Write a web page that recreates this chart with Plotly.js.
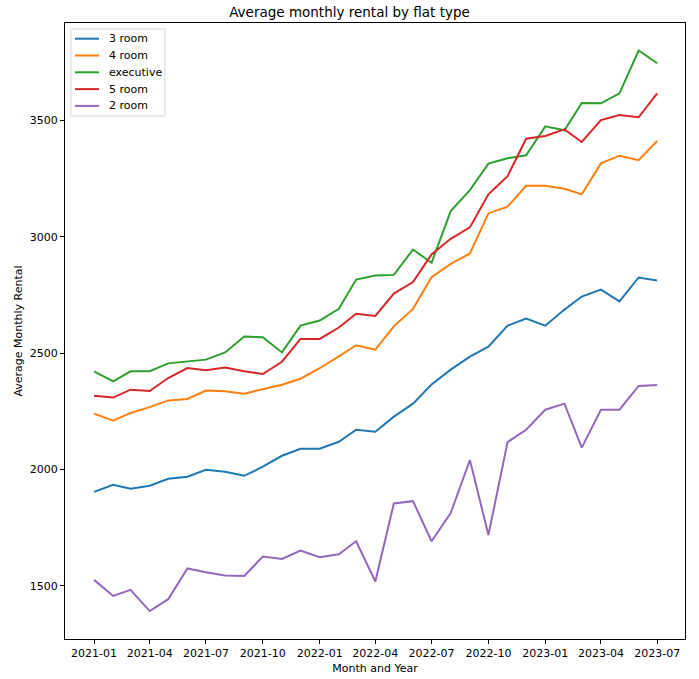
<!DOCTYPE html>
<html>
<head>
<meta charset="utf-8">
<script src="https://cdn.plot.ly/plotly-3.0.1.min.js"></script>
<style>
  html, body { margin: 0; padding: 0; background: #ffffff; }
  #chart { width: 699px; height: 679px; }
</style>
</head>
<body>
<div id="chart"></div>
<script>
// Months covered by the series
const months = [
  '2021-01-01','2021-02-01','2021-03-01','2021-04-01','2021-05-01','2021-06-01',
  '2021-07-01','2021-08-01','2021-09-01','2021-10-01','2021-11-01','2021-12-01',
  '2022-01-01','2022-02-01','2022-03-01','2022-04-01','2022-05-01','2022-06-01',
  '2022-07-01','2022-08-01','2022-09-01','2022-10-01','2022-11-01','2022-12-01',
  '2023-01-01','2023-02-01','2023-03-01','2023-04-01','2023-05-01','2023-06-01',
  '2023-07-01'
];

// Average monthly rental per flat type
const room3 = [1904, 1934, 1917, 1930, 1960, 1969, 1999, 1990, 1973, 2012, 2059, 2089,
               2089, 2119, 2171, 2162, 2227, 2283, 2365, 2429, 2485, 2528, 2618, 2648,
               2618, 2687, 2743, 2773, 2722, 2825, 2812];
const room4 = [2240, 2210, 2243, 2268, 2297, 2303, 2339, 2336, 2326, 2344, 2364, 2390,
               2435, 2486, 2534, 2515, 2615, 2690, 2826, 2883, 2928, 3100, 3129, 3219,
               3219, 3206, 3182, 3315, 3348, 3329, 3411];
const executive = [2422, 2379, 2422, 2422, 2456, 2463, 2472, 2503, 2571, 2568, 2503, 2618,
                   2640, 2690, 2816, 2833, 2836, 2945, 2888, 3110, 3200, 3314, 3337, 3350,
                   3474, 3457, 3574, 3573, 3616, 3800, 3745];
const room5 = [2317, 2309, 2343, 2337, 2393, 2436, 2426, 2438, 2422, 2410, 2463, 2561,
               2561, 2610, 2669, 2660, 2756, 2805, 2924, 2991, 3040, 3182, 3260, 3421,
               3433, 3461, 3407, 3501, 3523, 3513, 3616];
const room2 = [1526, 1457, 1483, 1392, 1443, 1575, 1559, 1545, 1543, 1626, 1616, 1652,
               1623, 1636, 1692, 1519, 1854, 1864, 1692, 1813, 2041, 1719, 2118, 2171,
               2257, 2283, 2094, 2257, 2257, 2359, 2363];

const seriesNames = ['3 room', '4 room', 'executive', '5 room', '2 room'];
const seriesValues = [room3, room4, executive, room5, room2];
const seriesColors = ['#1f77b4', '#ff7f0e', '#2ca02c', '#d62728', '#9467bd'];

// Quarterly x ticks
const xTickVals = ['2021-01-01','2021-04-01','2021-07-01','2021-10-01','2022-01-01',
                   '2022-04-01','2022-07-01','2022-10-01','2023-01-01','2023-04-01','2023-07-01'];
const xTickText = ['2021-01','2021-04','2021-07','2021-10','2022-01',
                   '2022-04','2022-07','2022-10','2023-01','2023-04','2023-07'];
const yTickVals = [1500, 2000, 2500, 3000, 3500];

const W = 699, H = 679;
const margin = { l: 65, r: 14, t: 23, b: 40 };
const plotW = W - margin.l - margin.r;
const plotH = H - margin.t - margin.b;
// pixel offsets inside the plot area -> paper fractions
const px = dx => dx / plotW;
const py = dy => 1 - dy / plotH;

const traces = seriesNames.map((name, i) => ({
  type: 'scatter',
  mode: 'lines',
  name: name,
  x: months,
  y: seriesValues[i],
  line: { color: seriesColors[i], width: 2 },
  showlegend: false
}));

const font = { family: 'DejaVu Sans, sans-serif', size: 11, color: '#000000' };

// Compact boxed legend in the upper-left corner
const legendShapes = [{
  type: 'rect', xref: 'paper', yref: 'paper',
  x0: px(6), x1: px(100), y0: py(93), y1: py(6),
  line: { color: '#d6d6d6', width: 1 },
  fillcolor: 'rgba(255,255,255,0.8)',
  layer: 'above'
}];
const legendAnnotations = [];
seriesNames.forEach((name, i) => {
  const rowY = 15.7 + 16.8 * i;
  legendShapes.push({
    type: 'line', xref: 'paper', yref: 'paper',
    x0: px(10), x1: px(34), y0: py(rowY), y1: py(rowY),
    line: { color: seriesColors[i], width: 2 },
    layer: 'above'
  });
  legendAnnotations.push({
    xref: 'paper', yref: 'paper',
    x: px(41.5), y: py(rowY),
    xanchor: 'left', yanchor: 'middle',
    text: name, showarrow: false,
    font: font
  });
});

const layout = {
  width: W,
  height: H,
  margin: margin,
  paper_bgcolor: '#ffffff',
  plot_bgcolor: '#ffffff',
  font: font,
  showlegend: false,
  title: {
    text: 'Average monthly rental by flat type',
    font: { family: 'DejaVu Sans, sans-serif', size: 13.5, color: '#000000' },
    x: 0.5, xanchor: 'center',
    y: 1 - 12.5 / H, yanchor: 'middle', yref: 'container'
  },
  xaxis: {
    type: 'date',
    range: ['2020-11-15', '2023-08-15'],
    tickmode: 'array',
    tickvals: xTickVals,
    ticktext: xTickText,
    ticks: 'outside', ticklen: 4, tickwidth: 1, tickcolor: '#000000',
    showgrid: false, zeroline: false,
    showline: true, linecolor: '#000000', linewidth: 1, mirror: true,
    tickfont: font,
    title: { text: 'Month and Year', font: font, standoff: 5 }
  },
  yaxis: {
    range: [1272, 3918],
    tickmode: 'array',
    tickvals: yTickVals,
    ticks: 'outside', ticklen: 4, tickwidth: 1, tickcolor: '#000000',
    showgrid: false, zeroline: false,
    showline: true, linecolor: '#000000', linewidth: 1, mirror: true,
    tickfont: font,
    title: { text: 'Average Monthly Rental', font: font, standoff: 4 }
  },
  shapes: legendShapes,
  annotations: legendAnnotations
};

Plotly.newPlot('chart', traces, layout, { displayModeBar: false, staticPlot: true });
</script>
</body>
</html>
